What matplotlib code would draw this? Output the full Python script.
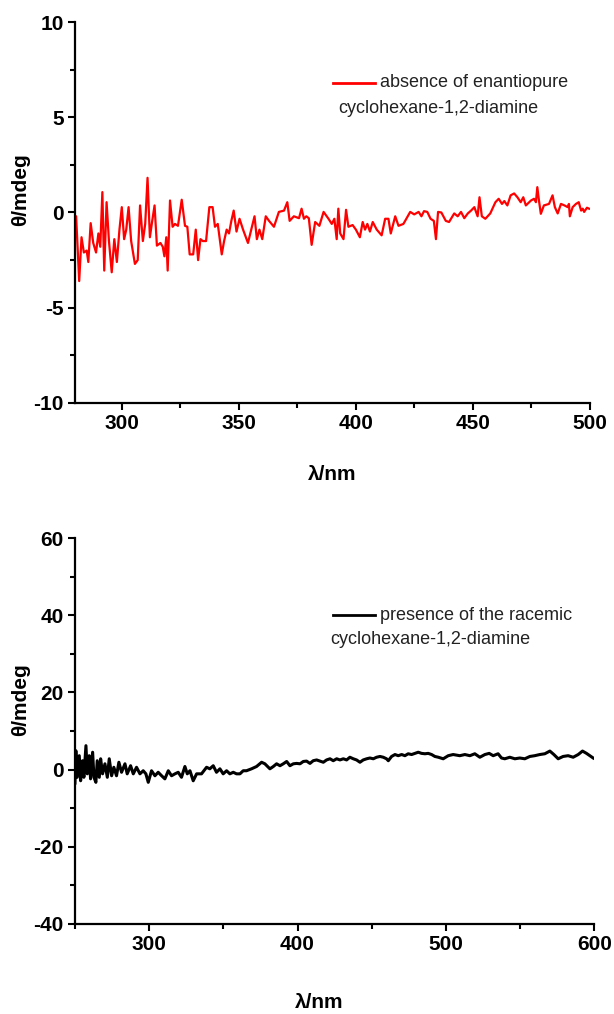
import matplotlib
matplotlib.use('Agg')
import matplotlib.pyplot as plt
from matplotlib.ticker import MultipleLocator

plt.rcParams['font.family'] = ['Liberation Sans', 'DejaVu Sans']
plt.rcParams['axes.unicode_minus'] = False

# top panel: absence of enantiopure diamine (red)
wl_top = [280, 280.5, 281.8, 282.8, 283.8, 285, 285.7, 286.7, 287.8, 289, 290, 290.8,
          291.7, 292.5, 293.5, 294.5, 295.7, 296.8, 297.9, 299, 300, 301, 301.9, 302.9,
          304, 305.6, 306.8, 307.8, 309, 310, 311, 312, 313, 314, 315, 316.5, 317.5,
          318.2, 319, 319.6, 320.6, 321.7, 322.7, 324, 325.6, 327, 328, 329, 330.5,
          331.6, 332.6, 333.6, 334.6, 336, 337.4, 338.8, 339.8, 341, 342.7, 343.7,
          344.8, 345.8, 346.8, 347.8, 349, 350.3, 351.8, 353.9, 355.3, 356.7, 357.7,
          358.8, 360, 361.5, 362.9, 365, 367.1, 369.3, 370.7, 371.7, 373.5, 375.7,
          376.8, 377.8, 378.8, 379.9, 381.1, 382.6, 384.4, 386.2, 388.3, 389.7, 390.8,
          391.8, 392.5, 393.3, 394.7, 395.8, 396.8, 398.6, 400, 401.7, 402.9, 403.9,
          404.9, 406, 407.2, 408.9, 411, 412.5, 413.9, 414.9, 416.8, 418.2, 420.3,
          423.2, 424.9, 426.8, 428, 429.1, 430.5, 431.9, 433.3, 434.2, 435.1, 436.5,
          438.4, 439.8, 442, 443.5, 444.9, 446.3, 447.8, 449.2, 450.6, 452, 452.8,
          453.8, 455.3, 457.4, 459.6, 461, 462.4, 463.4, 464.7, 466.1, 467.6, 469,
          470.4, 471.5, 472.6, 474.8, 476.1, 476.9, 477.5, 478.2, 479, 480.3, 482.5,
          484, 485, 486.2, 487.6, 489.1, 490.5, 491, 491.4, 492.6, 494, 495.2, 496.2,
          496.9, 497.5, 498.7, 499.6]
cd_top = [-0.2, -0.2, -3.6, -1.3, -2.1, -2.0, -2.6, -0.56, -1.6, -2.1, -1.1, -1.8,
          1.07, -3.05, 0.54, -1.47, -3.14, -1.4, -2.6, -0.9, 0.28, -1.4, -0.9, 0.28,
          -1.5, -2.7, -2.5, 0.37, -1.5, -0.6, 1.82, -1.3, -0.44, 0.37, -1.74, -1.6, -1.8,
          -2.3, -1.3, -3.05, 0.63, -0.75, -0.6, -0.7, 0.67, -0.7, -0.75, -2.2, -2.2,
          -0.9, -2.5, -1.4, -1.5, -1.5, 0.28, 0.28, -0.75, -0.6, -2.2, -1.5,
          -0.9, -1.1, -0.44, 0.1, -1.0, -0.33, -0.9, -1.6, -0.9, -0.2, -1.4,
          -0.9, -1.4, -0.2, -0.44, -0.75, 0.03, 0.1, 0.54, -0.44, -0.2, -0.3,
          0.2, -0.33, -0.2, -0.3, -1.7, -0.5, -0.7, 0.03, -0.33, -0.6, -0.33,
          -1.4, 0.2, -1.1, -1.4, 0.14, -0.75, -0.66, -0.9, -1.3, -0.5, -0.9,
          -0.6, -1.0, -0.5, -0.9, -1.2, -0.33, -0.33, -1.1, -0.2, -0.7, -0.6,
          0.03, -0.1, 0.03, -0.2, 0.07, 0.03, -0.33, -0.44, -1.4, 0.03, 0.0,
          -0.44, -0.5, -0.05, -0.2, 0.03, -0.3, -0.05, 0.1, 0.28, -0.2, 0.8,
          -0.2, -0.33, -0.05, 0.54, 0.72, 0.45, 0.6, 0.37, 0.9, 1.0, 0.8,
          0.54, 0.8, 0.37, 0.63, 0.72, 0.54, 1.33, 0.63, -0.07, 0.37, 0.45,
          0.9, 0.28, -0.05, 0.45, 0.37, 0.28, 0.45, -0.2, 0.28, 0.45, 0.54,
          0.1, 0.2, 0.03, 0.25, 0.2]

# bottom panel: presence of racemic diamine (black)
wl_bot = [250.0, 250.6, 251.5, 252.9, 253.8, 255.1, 256.0, 257.4, 258.3, 259.6, 260.5,
          261.9, 262.8, 264.1, 265.0, 266.4, 267.3, 268.6, 270.2, 271.8, 273.1, 274.7,
          276.2, 278.0, 279.6, 281.4, 283.7, 285.2, 287.5, 289.3, 291.5, 293.8, 296.0,
          297.8, 299.4, 301.6, 303.9, 306.1, 308.4, 310.6, 312.9, 315.1, 317.4, 319.6,
          321.8, 324.1, 325.7, 327.5, 329.7, 332.0, 335.3, 338.7, 340.9, 343.2, 345.4,
          347.7, 349.9, 352.2, 354.4, 356.7, 358.9, 361.2, 363.4, 365.6, 369.0, 372.4,
          375.8, 378.0, 380.3, 381.4, 383.7, 385.9, 388.2, 390.4, 392.7, 394.9, 397.2,
          399.4, 401.7, 403.9, 406.1, 408.4, 410.6, 412.9, 415.1, 417.4, 419.6, 421.9,
          424.1, 426.4, 428.6, 430.9, 433.1, 435.3, 437.6, 439.8, 442.1, 444.3, 446.6,
          448.8, 451.1, 453.3, 455.6, 457.8, 460.0, 461.2, 463.4, 465.7, 467.9, 470.2,
          472.4, 474.6, 476.9, 479.1, 481.4, 483.6, 485.9, 488.1, 490.4, 492.6, 494.9,
          498.2, 501.6, 504.9, 509.4, 512.8, 516.2, 519.5, 522.9, 526.3, 529.2, 531.9,
          535.2, 537.5, 539.7, 543.1, 546.5, 549.8, 553.2, 556.6, 559.9, 563.3, 566.7,
          570.1, 572.8, 575.7, 579.0, 582.4, 585.8, 589.2, 592.1, 594.8, 597.0, 599.3]
cd_bot = [-3.5, 4.9, -2.0, 3.6, -2.9, 2.3, -2.0, 6.2, -1.1, 3.6, -2.4,
          4.5, -2.0, -3.3, 2.3, -2.0, 2.8, -1.1, 1.5, -2.0, 2.8, -1.6,
          0.6, -1.6, 1.9, -0.7, 1.5, -1.1, 1.0, -1.1, 0.6, -1.1, -0.3,
          -1.1, -3.3, -0.3, -1.6, -0.7, -1.6, -2.4, -0.3, -1.6, -1.1, -0.7,
          -2.0, 0.8, -1.1, -0.3, -2.9, -1.1, -1.1, 0.6, 0.2, 1.0, -0.7,
          0.2, -1.1, -0.3, -1.1, -0.7, -1.1, -1.1, -0.3, -0.3, 0.2, 0.8,
          1.9, 1.5, 0.6, 0.2, 0.8, 1.5, 1.0, 1.5, 2.1, 1.0, 1.5,
          1.6, 1.5, 2.1, 2.2, 1.6, 2.3, 2.5, 2.2, 1.9, 2.5, 2.8,
          2.3, 2.8, 2.5, 2.8, 2.5, 3.2, 2.8, 2.5, 1.9, 2.5, 2.8,
          3.0, 2.8, 3.2, 3.4, 3.2, 2.8, 2.3, 3.4, 3.9, 3.6, 3.9,
          3.6, 4.1, 3.9, 4.2, 4.5, 4.2, 4.1, 4.2, 3.9, 3.4, 3.2,
          2.8, 3.6, 3.9, 3.6, 3.9, 3.6, 4.1, 3.2, 3.9, 4.2, 3.6,
          4.1, 3.0, 2.8, 3.2, 2.8, 3.0, 2.8, 3.4, 3.6, 3.9, 4.1,
          4.8, 3.9, 2.8, 3.4, 3.6, 3.2, 3.9, 4.8, 4.2, 3.6, 3.0]

label_top = ["absence of enantiopure", "cyclohexane-1,2-diamine"]
label_bot = ["presence of the racemic", "cyclohexane-1,2-diamine"]

fig = plt.figure(figsize=(6.14, 10.14), dpi=100)
ax1 = fig.add_axes([0.1221, 0.6026, 0.8388, 0.3757])
ax2 = fig.add_axes([0.1221, 0.0888, 0.8457, 0.3806])


def style(ax):
    for s in ['top', 'right']:
        ax.spines[s].set_visible(False)
    for s in ['left', 'bottom']:
        ax.spines[s].set_linewidth(1.6)
    ax.tick_params(which='major', direction='out', length=5, width=1.5, pad=3,
                   labelsize=15)
    ax.tick_params(which='minor', direction='out', length=3.5, width=1.5)
    for lab in ax.get_xticklabels() + ax.get_yticklabels():
        lab.set_fontweight('bold')


ax1.plot(wl_top, cd_top, color='#ff0000', lw=1.6)
ax1.set_xlim(280, 500)
ax1.set_ylim(-10, 10)
ax1.xaxis.set_major_locator(MultipleLocator(50))
ax1.xaxis.set_minor_locator(MultipleLocator(25))
ax1.yaxis.set_major_locator(MultipleLocator(5))
ax1.yaxis.set_minor_locator(MultipleLocator(2.5))
style(ax1)
ax1.set_xlabel('λ/nm', fontsize=15, fontweight='bold')
ax1.set_ylabel('θ/mdeg', fontsize=15, fontweight='bold')
ax1.xaxis.set_label_coords(0.5, -0.163)
ax1.yaxis.set_label_coords(-0.087, 0.56)
ax1.plot([0.501, 0.583], [0.840, 0.840], color='#ff0000', lw=2,
         transform=ax1.transAxes)
ax1.text(0.592, 0.840, label_top[0], transform=ax1.transAxes, va='center',
         fontsize=13, color='#222222')
ax1.text(0.511, 0.774, label_top[1], transform=ax1.transAxes, va='center',
         fontsize=13, color='#222222')

ax2.plot(wl_bot, cd_bot, color='black', lw=2.2)
ax2.set_xlim(250, 600)
ax2.set_ylim(-40, 60)
ax2.xaxis.set_major_locator(MultipleLocator(100))
ax2.xaxis.set_minor_locator(MultipleLocator(50))
ax2.yaxis.set_major_locator(MultipleLocator(20))
ax2.yaxis.set_minor_locator(MultipleLocator(10))
style(ax2)
ax2.set_xlabel('λ/nm', fontsize=15, fontweight='bold')
ax2.set_ylabel('θ/mdeg', fontsize=15, fontweight='bold')
ax2.xaxis.set_label_coords(0.47, -0.178)
ax2.yaxis.set_label_coords(-0.087, 0.58)
ax2.plot([0.497, 0.578], [0.80, 0.80], color='black', lw=2,
         transform=ax2.transAxes)
ax2.text(0.588, 0.80, label_bot[0], transform=ax2.transAxes, va='center',
         fontsize=13, color='#222222')
ax2.text(0.491, 0.737, label_bot[1], transform=ax2.transAxes, va='center',
         fontsize=13, color='#222222')

fig.savefig('out.png', dpi=100)
